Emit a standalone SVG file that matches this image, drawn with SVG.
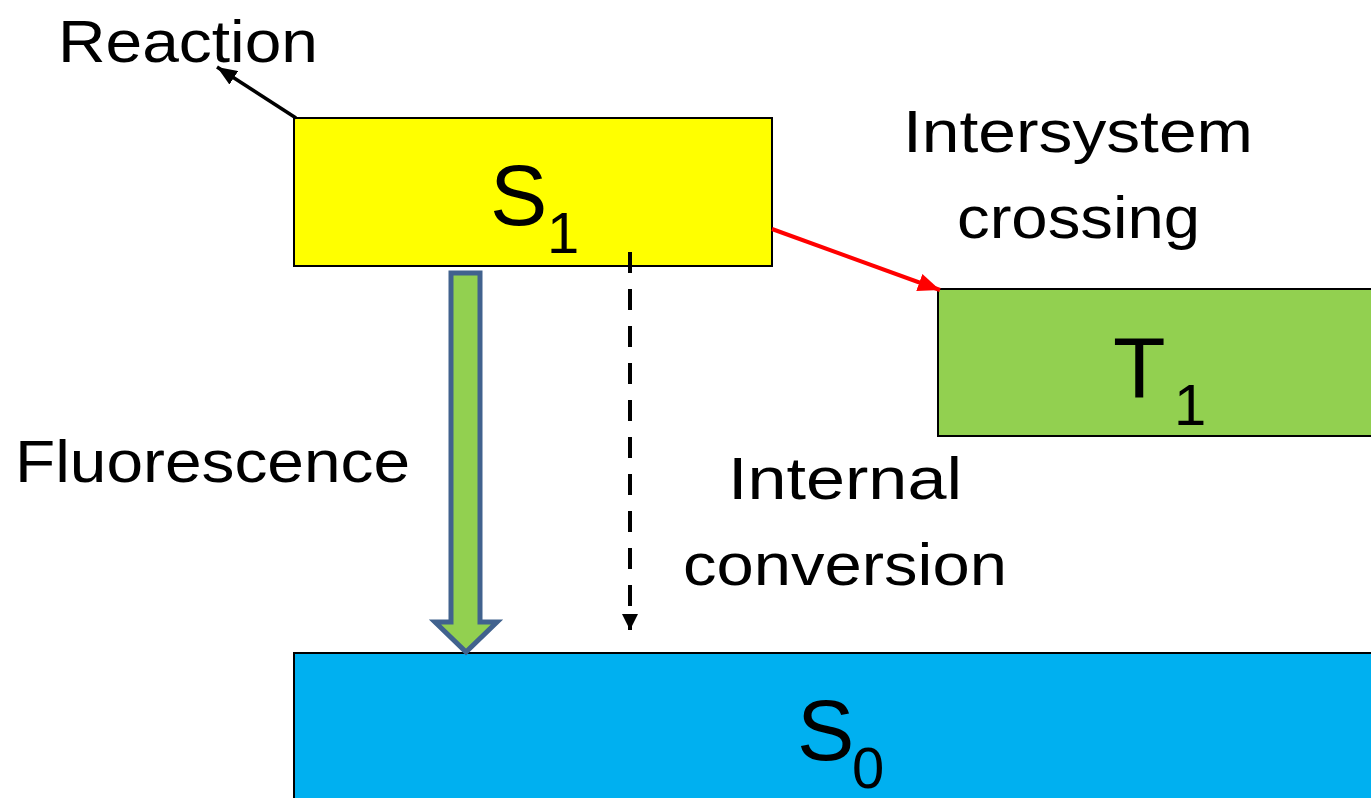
<svg xmlns="http://www.w3.org/2000/svg" width="1371" height="798" viewBox="0 0 1371 798">
<defs>
<style>
.t{font-family:"Liberation Sans",Arial,sans-serif;fill:#000}
.lbl{font-size:60px}
.big{font-size:86px}
.sub{font-size:58px}
.box{stroke:#000;stroke-width:2}
</style>
<marker id="ab" markerWidth="20" markerHeight="16" refX="20" refY="8" orient="auto" markerUnits="userSpaceOnUse"><path d="M0,0 L20,8 L0,16 z" fill="#000"/></marker>
<marker id="ar" markerWidth="22" markerHeight="18" refX="22" refY="9" orient="auto" markerUnits="userSpaceOnUse"><path d="M0,0 L22,9 L0,18 z" fill="#f00"/></marker>
<marker id="ad" markerWidth="16" markerHeight="16" refX="16" refY="8" orient="auto" markerUnits="userSpaceOnUse"><path d="M0,0 L16,8 L0,16 z" fill="#000"/></marker>
</defs>
<rect width="1371" height="798" fill="#fff"/>
<g id="S1"><rect class="box" x="294" y="118" width="478" height="148" fill="#ffff00"/><text class="t big" x="490" y="225">S</text><text class="t sub" x="547" y="253">1</text></g>
<g id="T1"><rect class="box" x="938" y="289" width="440" height="147" fill="#92d050"/><text class="t big" x="1113" y="397">T</text><text class="t sub" x="1174" y="425">1</text></g>
<g id="S0"><rect class="box" x="294" y="653" width="1090" height="160" fill="#00b0f0"/><text class="t big" x="797" y="760">S</text><text class="t sub" x="852" y="788">0</text></g>
<g id="connectors">
<line x1="296" y1="118" x2="217" y2="67" stroke="#000" stroke-width="3.5" marker-end="url(#ab)"/>
<line x1="772" y1="229" x2="940" y2="290" stroke="#f00" stroke-width="4" marker-end="url(#ar)"/>
<line x1="630" y1="252" x2="630" y2="630" stroke="#000" stroke-width="4" stroke-dasharray="21 16" marker-end="url(#ad)"/>
<path d="M451,273 L480,273 L480,622 L497,622 L466,652 L435,622 L451,622 Z" fill="#92d050" stroke="#41628e" stroke-width="5" stroke-linejoin="miter"/>
</g>
<g id="labels">
<text class="t lbl" x="58" y="62" textLength="260" lengthAdjust="spacingAndGlyphs">Reaction</text>
<text class="t lbl" x="903" y="152" textLength="350" lengthAdjust="spacingAndGlyphs">Intersystem</text>
<text class="t lbl" x="957" y="238" textLength="243" lengthAdjust="spacingAndGlyphs">crossing</text>
<text class="t lbl" x="15" y="482" textLength="395" lengthAdjust="spacingAndGlyphs">Fluorescence</text>
<text class="t lbl" x="728" y="499" textLength="234" lengthAdjust="spacingAndGlyphs">Internal</text>
<text class="t lbl" x="683" y="585" textLength="324" lengthAdjust="spacingAndGlyphs">conversion</text>
</g>
</svg>
